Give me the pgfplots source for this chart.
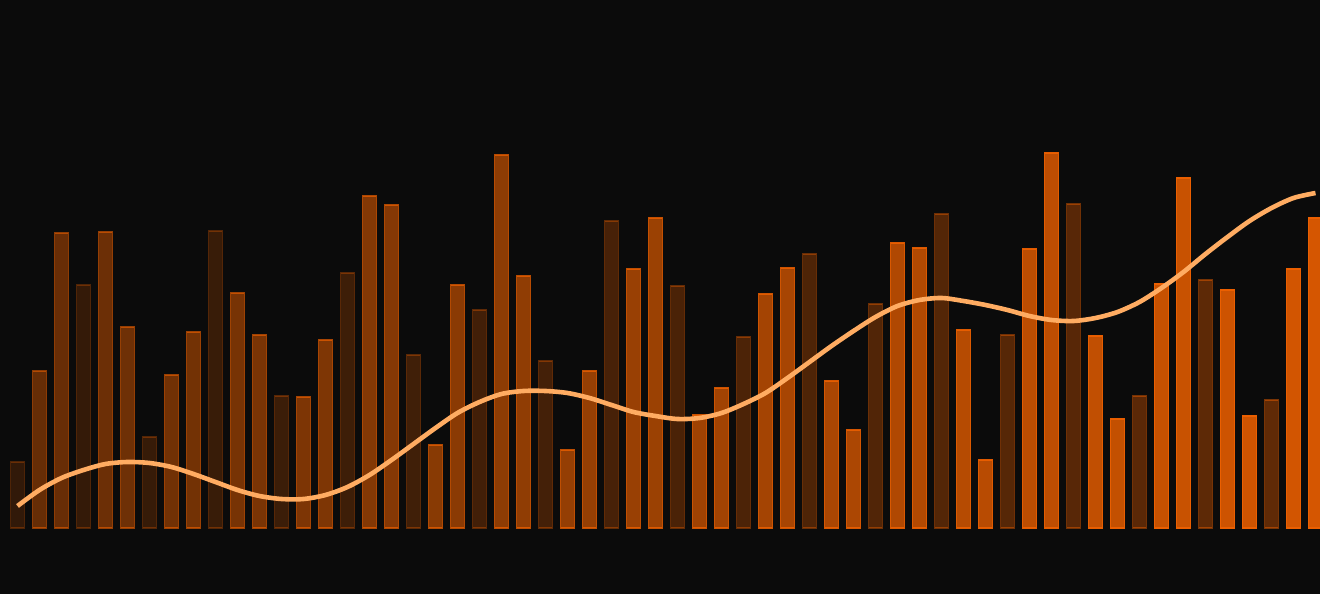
\documentclass[border=0pt]{standalone}
\usepackage{pgfplots}
\pgfplotsset{compat=1.18}
\definecolor{bgc}{RGB}{11,11,11}
\definecolor{bo}{RGB}{235,95,0}
\definecolor{ln}{RGB}{255,172,98}
\newcommand{\B}[4]{\addplot[ybar, bar width=0.62, bar shift=0pt, fill=bo, fill opacity=#3, draw=bo, draw opacity=#4, line width=0.6pt] coordinates {(#1,#2)};}
\begin{document}
\begin{tikzpicture}
\useasboundingbox (0,0) rectangle (660pt,297pt);
\fill[bgc] (0,0) rectangle (660pt,297pt);
\begin{axis}[
  at={(0,0)}, anchor=south west,
  scale only axis, width=660pt, height=297pt,
  xmin=-0.7955, xmax=59.2045, ymin=-66, ymax=528,
  hide axis, clip=true,
]
\B{0}{66}{0.172}{0.30}
\B{1}{157}{0.408}{0.58}
\B{2}{295}{0.417}{0.59}
\B{3}{243}{0.183}{0.31}
\B{4}{296}{0.434}{0.61}
\B{5}{201}{0.442}{0.62}
\B{6}{91}{0.194}{0.32}
\B{7}{153}{0.459}{0.64}
\B{8}{196}{0.468}{0.65}
\B{9}{297}{0.205}{0.33}
\B{10}{235}{0.485}{0.66}
\B{11}{193}{0.493}{0.67}
\B{12}{132}{0.216}{0.34}
\B{13}{131}{0.510}{0.69}
\B{14}{188}{0.519}{0.70}
\B{15}{255}{0.227}{0.35}
\B{16}{332}{0.536}{0.72}
\B{17}{323}{0.544}{0.73}
\B{18}{173}{0.238}{0.36}
\B{19}{83}{0.561}{0.74}
\B{20}{243}{0.569}{0.75}
\B{21}{218}{0.249}{0.37}
\B{22}{373}{0.586}{0.77}
\B{23}{252}{0.595}{0.78}
\B{24}{167}{0.259}{0.38}
\B{25}{78}{0.612}{0.80}
\B{26}{157}{0.620}{0.81}
\B{27}{307}{0.270}{0.39}
\B{28}{259}{0.637}{0.82}
\B{29}{310}{0.646}{0.83}
\B{30}{242}{0.281}{0.40}
\B{31}{113}{0.663}{0.85}
\B{32}{140}{0.671}{0.86}
\B{33}{191}{0.292}{0.41}
\B{34}{234}{0.688}{0.87}
\B{35}{260}{0.697}{0.88}
\B{36}{274}{0.303}{0.42}
\B{37}{147}{0.714}{0.90}
\B{38}{98}{0.722}{0.90}
\B{39}{224}{0.314}{0.43}
\B{40}{285}{0.739}{0.92}
\B{41}{280}{0.747}{0.93}
\B{42}{314}{0.325}{0.44}
\B{43}{198}{0.764}{0.94}
\B{44}{68}{0.773}{0.95}
\B{45}{193}{0.336}{0.45}
\B{46}{279}{0.790}{0.96}
\B{47}{375}{0.798}{0.97}
\B{48}{324}{0.347}{0.46}
\B{49}{192}{0.815}{0.98}
\B{50}{109}{0.824}{0.99}
\B{51}{132}{0.358}{0.47}
\B{52}{244}{0.841}{1.0}
\B{53}{350}{0.849}{1.0}
\B{54}{248}{0.369}{0.48}
\B{55}{238}{0.866}{1.0}
\B{56}{112}{0.875}{1.0}
\B{57}{128}{0.380}{0.49}
\B{58}{259}{0.892}{1.0}
\B{59}{310}{0.900}{1.0}
\addplot[ln, line width=2.3pt, smooth, line join=round] coordinates {
(0,22) (1,38) (2,50) (3,58) (4,64) (5,66) (6,65) (7,61) (8,54) (9,46)
(10,38) (11,32) (12,29) (13,29) (14,33) (15,41) (16,53) (17,68) (18,84) (19,100)
(20,115) (21,126) (22,134) (23,137) (24,137) (25,135) (26,130) (27,123) (28,116) (29,112)
(30,109) (31,110) (32,115) (33,124) (34,135) (35,150) (36,166) (37,182) (38,197) (39,211)
(40,222) (41,228) (42,230) (43,227) (44,223) (45,218) (46,212) (47,208) (48,207) (49,210)
(50,216) (51,226) (52,240) (53,256) (54,274) (55,291) (56,307) (57,320) (58,330) (59,335)
};
\end{axis}
\end{tikzpicture}
\end{document}
